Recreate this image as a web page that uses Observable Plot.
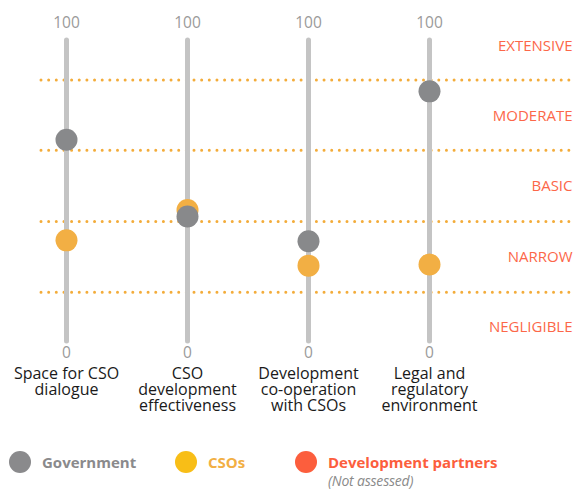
<!DOCTYPE html>
<html>
<head>
<meta charset="utf-8">
<script src="https://cdn.jsdelivr.net/npm/d3@7"></script>
<script src="https://cdn.jsdelivr.net/npm/@observablehq/plot@0.6"></script>
<style>
  html, body { margin: 0; padding: 0; background: #fff; }
  #wrap { position: relative; width: 578px; height: 489px; font-family: "Open Sans", sans-serif; overflow: hidden; }
  .leg { position: absolute; display: flex; align-items: center; font-weight: 700; font-size: 15px; line-height: 22px; }
  .sw { width: 22px; height: 22px; border-radius: 50%; margin-right: 11px; }
  .note { position: absolute; font-style: italic; font-size: 14px; line-height: 14px; color: #8a8a8a; letter-spacing: -0.2px; }
</style>
</head>
<body>
<div id="wrap"></div>
<script>
// ---- data ----
const categories = ["Space for CSO\ndialogue", "CSO\ndevelopment\neffectiveness", "Development\nco-operation\nwith CSOs", "Legal and\nregulatory\nenvironment"];
const governmentValues = [67.0, 41.5, 33.3, 83.1];
const csoValues = [33.6, 43.7, 25.2, 25.6];
const thresholds = [16.4, 39.9, 63.5, 86.9];
const bandLabels = ["NEGLIGIBLE", "NARROW", "BASIC", "MODERATE", "EXTENSIVE"];
const bandLabelPositions = [4.6, 28, 51.5, 74.8, 98];
const scaleEnds = [0, 100];

const govData = categories.map((c, i) => ({cat: c, v: governmentValues[i]}));
const csoData = categories.map((c, i) => ({cat: c, v: csoValues[i]}));
const bandData = bandLabels.map((l, i) => ({label: l, v: bandLabelPositions[i]}));

const orange = "#F3AC3A";
const grey = "#88898B";
const cso = "#F2AF44";
const red = "#FC6749";

const chart = Plot.plot({
  width: 578,
  height: 430,
  marginLeft: 41,
  marginRight: 2,
  marginTop: 0,
  marginBottom: 0,
  style: {fontFamily: "Open Sans, sans-serif", fontSize: "15px", background: "transparent"},
  x: {type: "point", domain: categories, range: [66.3, 429.4], padding: 0, axis: null},
  y: {domain: [0, 100], range: [341, 40], axis: null},
  marks: [
    Plot.ruleY(thresholds, {stroke: orange, strokeWidth: 3, strokeLinecap: "round", strokeDasharray: "0 7.65"}),
    Plot.ruleX(categories, {x: d => d, y1: 0, y2: 100, stroke: "#C4C4C4", strokeWidth: 5, strokeLinecap: "round"}),
    Plot.text(categories, {x: d => d, y: scaleEnds[1], text: () => String(scaleEnds[1]), dy: -17, fill: "#9a9a9a", fontSize: 15.5}),
    Plot.text(categories, {x: d => d, y: scaleEnds[0], text: () => String(scaleEnds[0]), dy: 12, fill: "#9a9a9a", fontSize: 15.5}),
    Plot.text(categories, {x: d => d, y: 0, text: d => d, lineAnchor: "top", dy: 26, fill: "#1a1a1a", fontSize: 16, lineHeight: 1.0}),
    Plot.text(bandData, {y: "v", text: "label", frameAnchor: "right", textAnchor: "end", dx: -4, fill: red, fontSize: 15, letterSpacing: "-0.1px"}),
    Plot.dot(csoData, {x: "cat", y: "v", r: 11, fill: cso}),
    Plot.dot(govData, {x: "cat", y: "v", r: 11, fill: grey})
  ]
});

const wrap = document.getElementById("wrap");
chart.style.position = "absolute";
chart.style.left = "0px";
chart.style.top = "0px";
wrap.appendChild(chart);

const legendItems = [
  {label: "Government", sw: "#8A8A8C", text: "#8A8A8C", left: 9},
  {label: "CSOs", sw: "#F8BE17", text: "#F2AF44", left: 175},
  {label: "Development partners", sw: "#FC5E3D", text: "#FC5E3D", left: 295}
];
legendItems.forEach(it => {
  const d = document.createElement("div");
  d.className = "leg";
  d.style.left = it.left + "px";
  d.style.top = "451px";
  const s = document.createElement("div");
  s.className = "sw";
  s.style.background = it.sw;
  const t = document.createElement("span");
  t.textContent = it.label;
  t.style.color = it.text;
  d.appendChild(s); d.appendChild(t);
  wrap.appendChild(d);
});
const note = document.createElement("div");
note.className = "note";
note.textContent = "(Not assessed)";
note.style.left = "328px";
note.style.top = "474px";
wrap.appendChild(note);
</script>
</body>
</html>
